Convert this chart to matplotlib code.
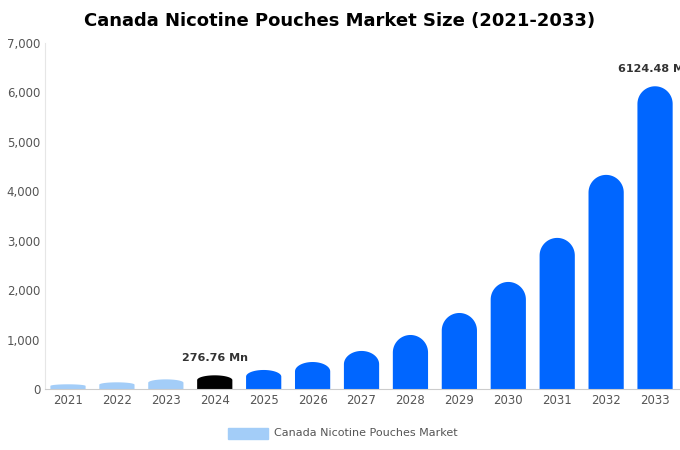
import numpy as np
import matplotlib.pyplot as plt
from matplotlib.patches import Rectangle, Polygon

years = [str(y) for y in range(2021, 2034)]
values = [95, 135, 195, 276.76, 385, 546, 770, 1093, 1538, 2166, 3057, 4332, 6124.48]
colors = ['#a3cdf8'] * 3 + ['#000000'] + ['#0066ff'] * 9
labels = {3: '276.76 Mn', 12: '6124.48 Mn'}

fig = plt.figure(figsize=(6.8, 4.5), dpi=100)
ax = fig.add_axes([45/680, 1 - 389/450, 635/680, 346/450])
ax.set_xlim(-0.47, 12.51)
ax.set_ylim(0, 7000)

w = 0.72
# half-width of a bar expressed in y data units
ry_full = (w / 2) * (635 / 12.98) * (7000 / 346)
t = np.linspace(np.pi, 0, 40)
for i, (v, c) in enumerate(zip(values, colors)):
    ry = min(ry_full, v * 0.35)
    top = [(i + w / 2 * np.cos(a), v - ry + ry * np.sin(a)) for a in t]
    pts = [(i - w / 2, 0)] + top + [(i + w / 2, 0)]
    ax.add_patch(Polygon(pts, closed=True, facecolor=c, edgecolor='none'))
    if i in labels:
        ax.text(i, v + 250, labels[i], ha='center', va='bottom',
                fontsize=8, fontweight='bold', color='#333333', clip_on=False)

ax.set_xticks(range(len(years)))
ax.set_xticklabels(years)
ax.set_yticks(range(0, 7001, 1000))
ax.set_yticklabels([f'{v:,}' for v in range(0, 7001, 1000)])
ax.tick_params(length=0, labelsize=8.5, colors='#555555')
for s in ['top', 'right']:
    ax.spines[s].set_visible(False)
ax.spines['left'].set_color('#e6e6e6')
ax.spines['bottom'].set_color('#cccccc')

fig.text(0.5, 1 - 21/450, 'Canada Nicotine Pouches Market Size (2021-2033)',
         ha='center', va='center', fontsize=13, fontweight='bold')
fig.patches.append(Rectangle((228/680, 1 - 439/450), 40/680, 11/450,
                             transform=fig.transFigure, color='#a3cdf8'))
fig.text(274/680, 1 - 433/450, 'Canada Nicotine Pouches Market', va='center',
         fontsize=8, color='#555555')
fig.savefig('out.png')
